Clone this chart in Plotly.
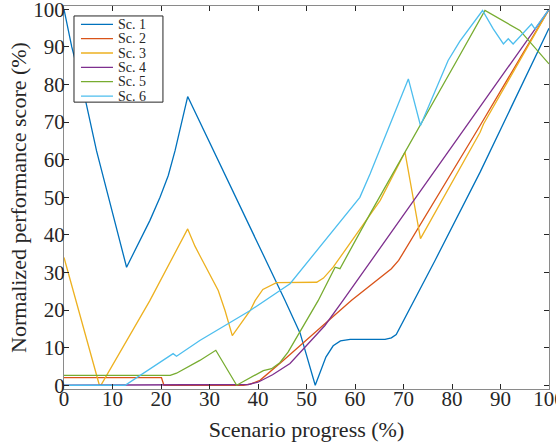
import plotly.graph_objects as go

names = ["Sc. 1", "Sc. 2", "Sc. 3", "Sc. 4", "Sc. 5", "Sc. 6"]
colors = ["#0072BD", "#D95319", "#EDB120", "#7E2F8E", "#77AC30", "#4DBEEE"]

sc1_x = [0, 1.6, 4.3, 6.7, 12.9, 15.5, 17.7, 19.8, 21.5, 22.9, 25.5, 45.6, 48.7, 51.8,
         52.8, 54.0, 55.5, 57.0, 59.0, 66.2, 67.5, 68.5, 76.5, 85.8, 100]
sc1_y = [100, 90, 76.6, 62.4, 31.4, 38.0, 43.8, 50.0, 55.8, 62.4, 76.8, 22.5, 13.8, 0,
         3.5, 7.5, 10.5, 11.8, 12.2, 12.2, 12.6, 13.5, 33.2, 56.7, 95]

sc2_x = [0, 20.1, 20.6, 37.0, 38.4, 40.4, 45.2, 50.0, 54.2, 59.3, 64.0, 67.5, 69.0, 85.8, 100]
sc2_y = [2.0, 2.0, 0, 0, 0.3, 1.3, 6.6, 11.9, 16.8, 22.6, 27.5, 31.0, 33.2, 69.1, 100]

sc3_x = [0, 7.3, 7.6, 17.7, 25.5, 27.0, 28.0, 31.8, 33.2, 34.7, 38.4, 39.4, 41.0, 43.8,
         52.1, 53.5, 55.5, 65.2, 70.3, 73.5, 85.8, 86.5, 100]
sc3_y = [34.0, 0, 0, 22.5, 41.6, 37.0, 34.5, 25.2, 19.9, 13.2, 19.9, 22.5, 25.5, 27.3,
         27.4, 28.5, 31.4, 49.2, 62.0, 39.0, 67.3, 69.5, 100]

sc4_x = [0, 36.0, 38.0, 40.0, 43.0, 46.6, 50.0, 53.8, 57.5, 100]
sc4_y = [0, 0, 0.2, 0.8, 2.8, 5.8, 10.6, 15.9, 22.5, 100]

sc5_x = [0, 21.9, 23.2, 25.0, 28.0, 31.3, 35.6, 41.1, 42.8, 44.5, 46.2, 52.4, 55.9, 56.9,
         63.1, 81.0, 86.8, 94.0, 100]
sc5_y = [2.6, 2.6, 3.2, 4.5, 6.6, 9.3, 0, 3.9, 4.4, 6.0, 8.8, 22.5, 31.4, 31.0,
         45.6, 86.4, 99.7, 94.4, 85.5]

sc6_x = [0, 12.6, 22.5, 23.2, 28.0, 38.4, 46.6, 52.1, 61.0, 63.1, 71.0, 73.5, 79.2, 81.6,
         86.3, 88.5, 90.6, 91.6, 92.6, 96.4, 97.1, 100]
sc6_y = [0, 0, 8.4, 7.7, 11.9, 19.9, 27.0, 35.9, 50.0, 56.2, 81.5, 69.1, 86.4, 91.5,
         99.7, 94.8, 90.8, 92.2, 90.8, 96.1, 94.8, 100]

xs = [sc1_x, sc2_x, sc3_x, sc4_x, sc5_x, sc6_x]
ys = [sc1_y, sc2_y, sc3_y, sc4_y, sc5_y, sc6_y]

x_ticks = list(range(0, 101, 10))
y_ticks = list(range(0, 101, 10))

FONT = "Liberation Serif"

fig = go.Figure()
for n, c, x, y in zip(names, colors, xs, ys):
    fig.add_trace(go.Scatter(x=x, y=y, mode="lines", name=n,
                             line=dict(color=c, width=1.3), showlegend=False))

# legend drawn as box + samples + text (paper coords)
L_x0, L_x1, L_y0, L_y1 = 0.0206, 0.204, 0.749, 0.974
fig.add_shape(type="rect", xref="paper", yref="paper", x0=L_x0, x1=L_x1, y0=L_y0, y1=L_y1,
              line=dict(color="#262626", width=1), fillcolor="white", layer="above")
for i, (n, c) in enumerate(zip(names, colors)):
    yy = 1 - (18.3 + 14.35 * i) / 383
    fig.add_shape(type="line", xref="paper", yref="paper", x0=0.035, x1=0.101, y0=yy, y1=yy,
                  line=dict(color=c, width=1.3), layer="above")
    fig.add_annotation(xref="paper", yref="paper", x=0.109, y=yy, text=n, showarrow=False,
                       xanchor="left", yanchor="middle", borderpad=0,
                       font=dict(family=FONT, size=14, color="#262626"))

axis_common = dict(showline=True, linecolor="#8a8a8a", linewidth=1, mirror="ticks",
                   ticks="inside", ticklen=5, tickwidth=1, tickcolor="#262626",
                   showgrid=False, zeroline=False, automargin=False,
                   ticklabeloverflow="allow",
                   tickfont=dict(family=FONT, size=21, color="#262626"))

fig.update_layout(
    width=556, height=445,
    margin=dict(l=64, r=7, t=6, b=56),
    paper_bgcolor="white", plot_bgcolor="white",
    xaxis=dict(range=[0, 100], tickvals=x_ticks, ticklabelstandoff=-9, **axis_common,
               title=dict(text="Scenario progress (%)", standoff=11,
                          font=dict(family=FONT, size=22, color="#262626"))),
    yaxis=dict(range=[-1, 100.9], tickvals=y_ticks, ticklabelstandoff=-6, **axis_common,
               title=dict(text="Normalized performance score (%)", standoff=0,
                          font=dict(family=FONT, size=22, color="#262626"))),
)

fig.write_html("out.html", config={"displayModeBar": False},
               post_script="document.body.style.margin='0';")
